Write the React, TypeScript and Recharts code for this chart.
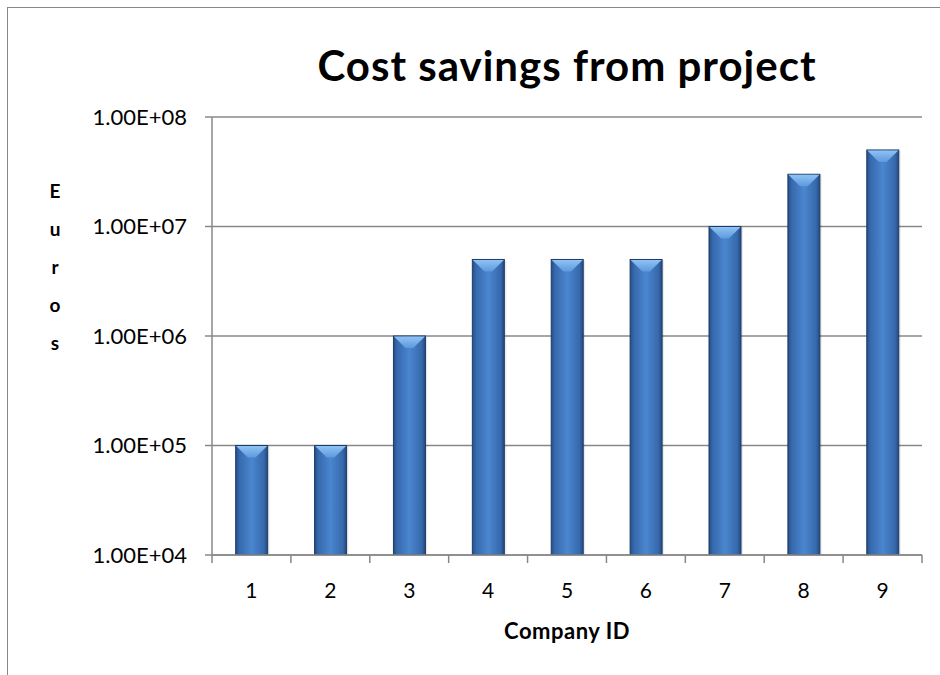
import { Bar, BarChart, CartesianGrid, XAxis, YAxis } from "recharts"

const companies = ["1", "2", "3", "4", "5", "6", "7", "8", "9"]
const savings = [1e5, 1e5, 1e6, 5e6, 5e6, 5e6, 1e7, 3e7, 5e7]
const yTicks = [1e4, 1e5, 1e6, 1e7, 1e8]
const yLetters = ["E", "u", "r", "o", "s"]

const data = companies.map((id, i) => ({ id, euros: savings[i] }))

const FONT = "Lato, 'Open Sans', sans-serif"
const GRAY = "#888888"
const X_TICK_SIZE = 8
const X_TICK_MARGIN = 20

const fmt = (v: number) => {
  const exp = Math.round(Math.log10(v))
  return `1.00E+${String(exp).padStart(2, "0")}`
}

function BevelBar(props: any) {
  const { x, y, width, height } = props
  if (!height || height <= 0) return null
  const b = Math.min(12, height / 2)
  return (
    <g>
      <rect x={x + 2} y={y + 1} width={width} height={height - 1} fill="#000" opacity={0.08} />
      <rect x={x} y={y} width={width} height={height} fill="url(#barBody)" stroke="#1d3b66" strokeWidth={1} />
      <polygon
        points={`${x + 0.5},${y + 0.5} ${x + width - 0.5},${y + 0.5} ${x + width * 0.62},${y + b} ${x + width * 0.38},${y + b}`}
        fill="url(#barTop)"
      />
    </g>
  )
}

function XTick(props: any) {
  const { x, y, payload, index, visibleTicksCount } = props
  const off = payload?.offset ?? 39.4
  const axisY = y - X_TICK_SIZE - X_TICK_MARGIN
  return (
    <g>
      <line x1={x - off} x2={x - off} y1={axisY} y2={axisY + X_TICK_SIZE} stroke={GRAY} strokeWidth={1.5} />
      {index === visibleTicksCount - 1 && (
        <line x1={x + off} x2={x + off} y1={axisY} y2={axisY + X_TICK_SIZE} stroke={GRAY} strokeWidth={1.5} />
      )}
      <text x={x} y={y} dy="0.71em" textAnchor="middle" fontFamily={FONT} fontSize={21} fill="#000">
        {payload.value}
      </text>
    </g>
  )
}

export default function App() {
  return (
    <div style={{ position: "absolute", left: 0, top: 0, width: 940, height: 675, background: "#fff", overflow: "hidden" }}>
      <div
        style={{
          position: "absolute",
          left: 7,
          top: 7,
          width: 940,
          height: 675,
          borderTop: `1px solid ${GRAY}`,
          borderLeft: `1px solid ${GRAY}`,
        }}
      />
      <div
        style={{
          position: "absolute",
          left: 0,
          width: 940,
          top: 40,
          textAlign: "center",
          paddingLeft: 194,
          boxSizing: "border-box",
          fontFamily: FONT,
          fontWeight: 700,
          fontSize: 42,
          letterSpacing: 1,
          lineHeight: "50px",
          color: "#000",
        }}
      >
        Cost savings from project
      </div>
      <div
        style={{
          position: "absolute",
          left: 40,
          top: 172,
          width: 30,
          textAlign: "center",
          fontFamily: FONT,
          fontWeight: 700,
          fontSize: 19,
          lineHeight: "38px",
          color: "#000",
        }}
      >
        {yLetters.map((l, i) => (
          <div key={i}>{l}</div>
        ))}
      </div>
      <div style={{ position: "absolute", left: 0, top: 0 }}>
        <BarChart
          width={940}
          height={675}
          data={data}
          margin={{ top: 117, right: 18, left: 0, bottom: 0 }}
          barCategoryGap="30%"
        >
          <defs>
            <linearGradient id="barBody" x1="0" y1="0" x2="1" y2="0">
              <stop offset="0%" stopColor="#254f86" />
              <stop offset="12%" stopColor="#3769ad" />
              <stop offset="50%" stopColor="#4a86cf" />
              <stop offset="88%" stopColor="#3769ad" />
              <stop offset="100%" stopColor="#234a7e" />
            </linearGradient>
            <linearGradient id="barTop" x1="0" y1="0" x2="0" y2="1">
              <stop offset="0%" stopColor="#8fc3f5" />
              <stop offset="100%" stopColor="#5e99dc" />
            </linearGradient>
          </defs>
          <CartesianGrid vertical={false} stroke={GRAY} strokeWidth={1.5} />
          <XAxis
            dataKey="id"
            height={120}
            axisLine={{ stroke: GRAY, strokeWidth: 1.5 }}
            tickLine={false}
            tickSize={X_TICK_SIZE}
            tickMargin={X_TICK_MARGIN}
            interval={0}
            tick={<XTick />}
            label={{
              value: "Company ID",
              position: "insideBottom",
              offset: 36,
              fontFamily: FONT,
              fontWeight: 700,
              fontSize: 22,
              letterSpacing: 0.5,
              fill: "#000",
            }}
          />
          <YAxis
            width={212}
            scale="log"
            domain={[1e4, 1e8]}
            ticks={yTicks}
            allowDataOverflow
            tickFormatter={fmt}
            axisLine={{ stroke: GRAY, strokeWidth: 1.5 }}
            tickLine={{ stroke: GRAY, strokeWidth: 1.5 }}
            tickSize={7}
            tickMargin={18}
            tick={{ fontFamily: FONT, fontSize: 22, fill: "#000" }}
          />
          <Bar dataKey="euros" shape={<BevelBar />} isAnimationActive={false} />
        </BarChart>
      </div>
    </div>
  )
}
